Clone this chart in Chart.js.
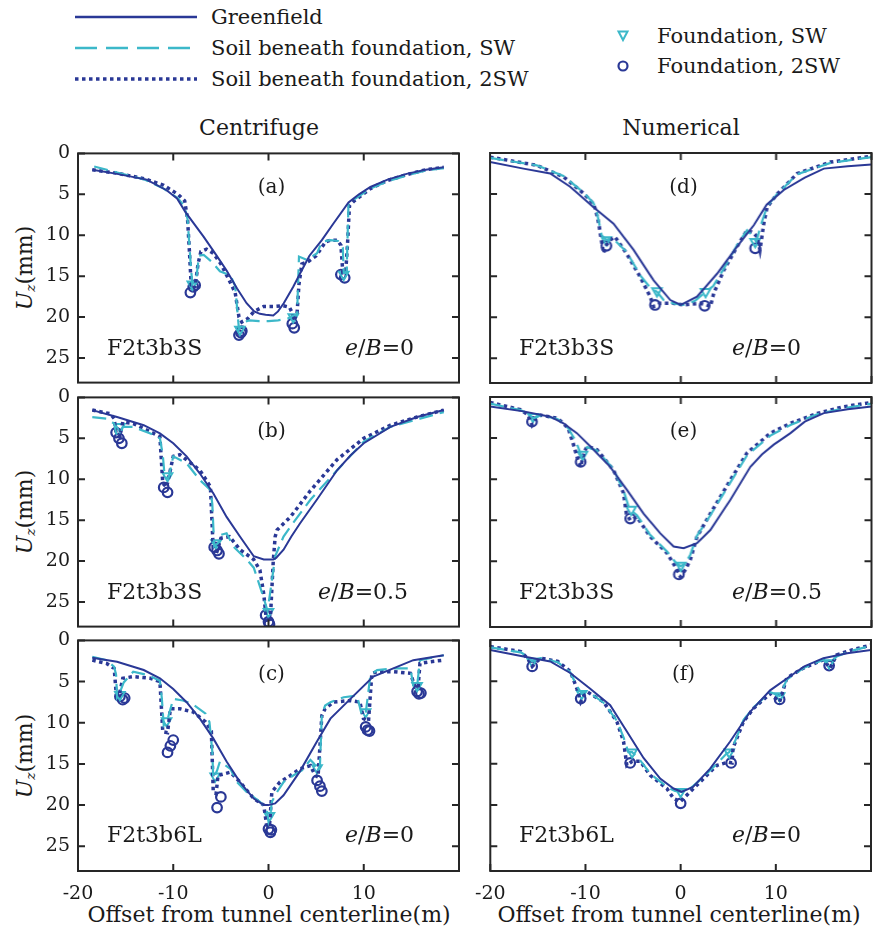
<!DOCTYPE html>
<html>
<head>
<meta charset="utf-8">
<script src="https://cdn.jsdelivr.net/npm/chart.js@4.4.1/dist/chart.umd.min.js"></script>
<style>
body { margin: 0; background: #fff; width: 873px; height: 941px; position: relative; overflow: hidden;
       font-family: 'DejaVu Serif', 'DejaVu Sans', serif; color: #1a1a1a; }
canvas { position: absolute; }
.t { position: absolute; white-space: nowrap; line-height: 1; }
.c { transform: translate(-50%, -50%); }
.leg { font-size: 21px; transform: translateY(-50%); }
.title { font-size: 22px; }
.ylab { font-size: 22px; transform: translate(-50%, -50%) rotate(-90deg); }
.ylab sub { font-size: 62%; vertical-align: -0.2em; }
.pl { font-size: 20px; }
.ann { font-size: 22px; transform: translateY(-50%); }
</style>
</head>
<body>

<svg width="873" height="100" style="position:absolute;left:0;top:0">
  <line x1="75" y1="17" x2="197" y2="17" stroke="#2a3896" stroke-width="2.5"/>
  <line x1="75" y1="48" x2="197" y2="48" stroke="#3cb8c9" stroke-width="2.5" stroke-dasharray="22 9"/>
  <line x1="75" y1="79" x2="197" y2="79" stroke="#2a3896" stroke-width="3.5" stroke-dasharray="3.5 3.5"/>
  <polygon points="618.5,31.5 627.5,31.5 623,40" fill="none" stroke="#3cb8c9" stroke-width="2"/>
  <circle cx="623" cy="66" r="4.5" fill="none" stroke="#2a3896" stroke-width="2.2"/>
</svg>
<div class="t leg" style="left:211px;top:17px">Greenfield</div>
<div class="t leg" style="left:211px;top:48px">Soil beneath foundation, SW</div>
<div class="t leg" style="left:211px;top:79px">Soil beneath foundation, 2SW</div>
<div class="t leg" style="left:657px;top:36px">Foundation, SW</div>
<div class="t leg" style="left:657px;top:66px">Foundation, 2SW</div>

<div class="t title c" style="left:259px;top:128px">Centrifuge</div>
<div class="t title c" style="left:681px;top:128px">Numerical</div>

<div class="t ylab" style="left:26px;top:268px"><i>U</i><sub><i>z</i></sub>(mm)</div>
<div class="t ylab" style="left:26px;top:512px"><i>U</i><sub><i>z</i></sub>(mm)</div>
<div class="t ylab" style="left:26px;top:756px"><i>U</i><sub><i>z</i></sub>(mm)</div>

<div class="t title c" style="left:269px;top:915px">Offset from tunnel centerline(m)</div>
<div class="t title c" style="left:679px;top:915px">Offset from tunnel centerline(m)</div>

<script>
// tick values
const xTicks = [-20, -10, 0, 10, 20];
const yTicks = [0, 5, 10, 15, 20, 25];

// panel (a) - centrifuge, F2t3b3S, e/B=0
const gfA = [[-18.5,2.0],[-15.9,2.5],[-12.8,3.2],[-10.7,4.5],[-9.6,5.5],[-8.7,7.2],[-6.8,10.2],[-5.5,12.4],[-4.4,14.3],[-3.3,16.5],[-2.3,18.3],[-1.5,19.3],[-0.9,19.6],[-0.3,19.7],[0.5,19.8],[1.0,19.3],[1.6,18.3],[2.6,16.3],[3.3,14.7],[4.3,12.5],[5.6,10.6],[6.8,8.6],[8.4,6.0],[9.5,5.0],[10.7,4.1],[12.5,3.2],[14.5,2.5],[16.5,2.0],[18.4,1.7]];
const swA = [[-18.3,1.6],[-16,2.3],[-13,3.2],[-11,4.3],[-9.5,5.5],[-8.8,6.5],[-8.5,8.0],[-8.2,13.0],[-8.0,16.0],[-7.6,15.5],[-7.3,12.5],[-6.8,12.4],[-6.0,13.2],[-5.1,14.4],[-4.0,14.9],[-3.5,16.2],[-3.1,21.5],[-2.6,20.6],[-2.0,20.4],[-1.0,20.5],[0,20.5],[1.0,20.4],[2.0,20.2],[2.6,19.8],[3.0,19.7],[3.2,12.6],[4.0,13.0],[5.1,12.2],[5.6,10.8],[6.5,10.6],[7.3,10.7],[7.8,11.5],[7.9,14.6],[8.2,14.6],[8.4,6.1],[9.0,5.6],[10.7,4.3],[12.5,3.4],[14.5,2.7],[16.5,2.1],[18.4,1.8]];
const dwA = [[-18.5,2.0],[-16,2.4],[-13,3.1],[-11,3.9],[-9.5,5.0],[-8.8,5.8],[-8.5,8.0],[-8.3,12.0],[-8.1,16.5],[-7.7,16.3],[-7.4,13.5],[-7.1,12.0],[-6.5,11.7],[-5.8,12.2],[-5.0,13.5],[-4.0,15.8],[-3.5,17.0],[-3.1,20.0],[-2.8,20.6],[-2.2,20.2],[-1.5,19.3],[-0.5,18.7],[0.5,18.7],[1.5,18.6],[2.2,18.8],[2.5,19.5],[2.7,20.4],[3.0,19.5],[3.2,16.0],[3.5,13.5],[4.2,13.2],[5.0,12.5],[6.0,10.8],[6.5,10.6],[7.2,10.6],[7.6,11.2],[7.8,14.5],[8.1,14.6],[8.3,11.0],[8.5,6.4],[9.0,5.8],[10.7,4.3],[12.5,3.3],[14.5,2.6],[16.5,2.0],[18.4,1.7]];
const mSwA = [[-8.0,16.0],[-3.0,21.5],[2.6,20.0],[7.9,14.8]];
const mDwA = [[-8.2,17.0],[-7.9,16.3],[-7.7,16.1],[-3.1,22.2],[-2.9,21.9],[-2.8,21.7],[2.5,20.8],[2.7,21.3],[7.6,14.8],[8.0,15.2]];

// panel (b) - centrifuge, F2t3b3S, e/B=0.5
const gfB = [[-18.5,1.55],[-15.9,2.4],[-13.1,3.4],[-11.4,4.4],[-10.0,5.6],[-8.6,7.2],[-7.2,9.3],[-5.8,11.7],[-4.4,14.6],[-3.0,17.0],[-1.55,19.4],[-0.5,19.8],[0.5,19.8],[0.8,19.6],[1.58,18.6],[2.4,17.0],[3.3,15.4],[5.07,12.5],[7.2,8.9],[8.6,7.1],[10.0,5.6],[12.8,3.6],[15.6,2.4],[18.4,1.55]];
const swB = [[-18.5,2.4],[-17,2.6],[-16.2,3.2],[-16.0,4.4],[-15.6,4.6],[-15.3,3.6],[-14.2,3.6],[-12.4,4.4],[-11.4,5.0],[-11.1,7.0],[-10.9,9.7],[-10.5,9.9],[-10.0,7.2],[-8.6,8.05],[-7.2,10.1],[-6.1,11.3],[-5.9,13.0],[-5.7,18.2],[-5.3,17.8],[-5.0,16.8],[-4.4,16.6],[-3.7,18.2],[-2.3,19.8],[-1.55,20.8],[-0.5,24.5],[-0.1,26.1],[0.4,22.0],[0.7,19.4],[1.58,17.0],[2.3,15.8],[4.4,12.5],[7.2,8.9],[10,5.4],[12.8,3.6],[15.9,2.6],[18.4,1.8]];
const dwB = [[-18.5,1.55],[-16.6,2.0],[-16.2,2.6],[-16.0,4.4],[-15.6,4.8],[-15.3,3.0],[-14.2,3.2],[-12.4,4.2],[-11.4,4.8],[-11.1,10.5],[-10.7,11.0],[-10.0,7.2],[-9.3,7.0],[-7.2,8.9],[-6.1,10.9],[-5.8,18.6],[-5.4,18.8],[-5.0,17.2],[-4.1,17.0],[-3.0,18.6],[-1.55,19.8],[-0.9,21.1],[-0.5,24.0],[-0.2,27.5],[0.2,27.0],[0.5,20.0],[0.7,17.0],[0.9,16.2],[2.3,14.6],[4.4,11.4],[7.2,7.6],[10,5.0],[12.8,3.4],[15.6,2.4],[18.4,1.55]];
const mSwB = [[-15.6,3.6],[-10.6,9.6],[-5.5,17.8],[0,26.2]];
const mDwB = [[-16.0,4.3],[-15.7,5.0],[-15.4,5.6],[-11.0,11.0],[-10.6,11.6],[-5.7,18.3],[-5.4,18.7],[-5.2,19.1],[-0.3,26.6],[0.0,27.4],[0.1,27.7]];

// panel (c) - centrifuge, F2t3b6L, e/B=0
const gfC = [[-18.5,2.1],[-15.9,2.6],[-13.1,3.6],[-11.4,4.6],[-10.0,5.9],[-8.6,7.5],[-7.2,9.5],[-5.8,11.9],[-4.4,14.7],[-3.0,17.2],[-1.55,19.2],[-0.5,20.0],[0,20.0],[0.7,19.8],[1.58,18.8],[3.3,15.9],[5.07,12.3],[6.5,9.5],[8.6,7.1],[11.0,4.4],[13.1,3.4],[15.2,2.4],[18.4,1.8]];
const swC = [[-18.5,2.0],[-17,2.4],[-16.2,3.2],[-16.0,4.2],[-15.9,6.9],[-15.5,6.0],[-15.2,5.1],[-14.2,3.8],[-12.7,4.2],[-11.4,4.9],[-11.2,7.0],[-11.0,10.3],[-10.6,9.6],[-10.0,7.1],[-9.0,7.3],[-8.0,7.7],[-6.6,8.9],[-6.2,9.9],[-5.9,13.5],[-5.8,16.8],[-5.4,15.8],[-5.1,14.7],[-4.0,15.6],[-3.3,17.2],[-2.3,18.4],[-0.9,19.6],[-0.2,20.4],[0.0,22.0],[0.2,21.2],[0.35,19.6],[0.9,18.4],[1.58,17.2],[2.6,16.4],[3.5,15.8],[4.4,14.5],[4.8,15.0],[5.07,16.0],[5.4,15.2],[5.6,9.0],[5.95,7.9],[6.5,7.5],[7.9,6.9],[9.3,6.7],[9.8,9.1],[10.2,8.9],[10.7,4.2],[11.4,3.6],[13.1,3.4],[14.9,3.4],[15.2,5.5],[15.6,5.6],[15.9,2.4],[18.4,1.8]];
const dwC = [[-18.5,2.4],[-17,2.8],[-16.2,3.4],[-16.0,6.3],[-15.7,6.8],[-15.3,4.6],[-14.2,4.4],[-12.4,4.6],[-11.4,5.0],[-11.1,11.1],[-10.6,11.2],[-10.3,8.3],[-9.3,8.3],[-7.9,8.7],[-6.6,9.9],[-6.0,11.0],[-5.8,18.4],[-5.5,18.6],[-5.3,16.4],[-4.0,16.0],[-3.0,17.2],[-1.55,19.2],[-0.5,20.0],[-0.2,22.4],[0.1,22.6],[0.35,18.4],[1.2,17.2],[2.3,16.4],[3.3,15.6],[4.4,15.2],[4.9,16.4],[5.2,16.6],[5.6,9.1],[5.95,8.3],[6.8,7.5],[8.6,7.3],[9.6,7.5],[9.97,9.5],[10.5,9.8],[10.85,4.0],[11.4,3.8],[13.1,3.8],[14.9,4.0],[15.4,5.7],[15.7,5.8],[15.9,2.8],[16.9,2.6],[18.4,2.4]];
const mSwC = [[-15.6,6.6],[-10.7,9.8],[-5.6,16.5],[0.1,21.3],[5.1,15.5],[10.2,8.7],[15.6,5.5]];
const mDwC = [[-15.6,6.8],[-15.3,7.2],[-15.1,7.0],[-10.6,13.6],[-10.3,12.8],[-10.0,12.1],[-5.4,20.3],[-5.0,19.0],[0,22.9],[0.2,23.3],[0.3,23.0],[5.1,17.0],[5.4,17.7],[5.6,18.3],[10.2,10.5],[10.4,10.9],[10.6,11.0],[15.6,6.2],[15.8,6.5],[16.0,6.4]];

// panel (d) - numerical, F2t3b3S, e/B=0
const gfD = [[-20,1.1],[-16.5,1.9],[-13.7,2.5],[-11.6,4.1],[-9.15,6.6],[-7.05,8.6],[-4.95,11.8],[-2.85,15.5],[-1.1,17.9],[0,18.5],[1.7,17.5],[3.8,14.7],[5.9,11.4],[7.65,8.8],[9.0,6.3],[10.8,4.5],[13,3.0],[15.0,1.9],[17.5,1.6],[20,1.4]];
const swD = [[-20,0.6],[-15.1,1.5],[-12.3,2.8],[-10.2,4.8],[-9.15,6.1],[-8.8,7.2],[-8.3,10.0],[-7.8,10.6],[-7.2,10.3],[-5.7,12.0],[-4.25,14.9],[-3.2,16.4],[-2.5,16.9],[-1.8,17.9],[-0.8,18.3],[0.25,18.5],[1.5,18.0],[2.6,16.9],[3.4,16.2],[4.5,14.1],[5.9,11.2],[6.95,9.4],[7.6,10.2],[7.9,10.8],[8.5,8.4],[9.05,6.5],[10.1,5.0],[12.2,2.6],[15.7,1.2],[20,0.5]];
const dwD = [[-20,0.5],[-15.1,1.5],[-12.3,2.9],[-10.2,4.9],[-9.15,6.2],[-8.9,7.0],[-8.6,8.6],[-8.1,12.2],[-7.8,11.2],[-7.4,10.6],[-6.9,10.2],[-5.7,12.2],[-4.25,15.1],[-3.2,17.5],[-2.85,18.7],[-2.2,18.3],[-0.8,18.3],[0.25,18.5],[2.0,18.3],[2.7,18.5],[3.1,18.7],[3.45,17.1],[4.5,14.3],[5.9,11.4],[6.95,9.4],[7.6,9.7],[8.0,10.2],[8.3,11.8],[8.7,8.6],[9.05,6.6],[10.1,5.0],[12.2,2.5],[15.7,1.1],[20,0.4]];
const mSwD = [[-7.8,10.6],[-2.5,16.8],[2.6,16.9],[7.8,10.8]];
const mDwD = [[-7.8,11.3],[-2.7,18.5],[2.5,18.6],[7.8,11.6]];

// panel (e) - numerical, F2t3b3S, e/B=0.5
const gfE = [[-20,1.15],[-16.5,1.75],[-13.7,2.4],[-12.3,3.2],[-10.9,4.4],[-9.5,6.0],[-7.4,8.5],[-5.65,11.3],[-3.9,14.2],[-2.15,16.6],[-0.75,18.2],[0.3,18.4],[1.7,17.8],[3.1,16.2],[5.2,12.5],[7.3,8.5],[8.5,7.0],[9.75,5.8],[11.5,4.4],[13,3.0],[15.0,1.96],[17.5,1.5],[20,1.15]];
const swE = [[-20,0.8],[-16.8,1.6],[-16.0,2.0],[-15.5,2.6],[-15.0,2.4],[-14.7,2.2],[-12.9,2.7],[-11.8,3.8],[-11.0,5.4],[-10.4,7.2],[-10.0,6.4],[-9.8,6.1],[-8.8,6.5],[-7.05,8.8],[-6.0,11.4],[-5.4,13.6],[-5.0,14.0],[-4.6,14.4],[-3.2,16.8],[-1.45,18.8],[-0.5,20.2],[0.0,20.6],[0.5,20.2],[1.0,19.2],[1.7,16.9],[3.1,14.4],[5.2,10.4],[6.95,7.1],[9.4,4.7],[11.5,3.4],[14.3,2.1],[17,1.4],[20,0.8]];
const dwE = [[-20,0.66],[-16.8,1.55],[-16.0,2.2],[-15.6,3.4],[-15.2,2.6],[-14.7,2.2],[-12.9,2.6],[-11.8,3.8],[-11.3,5.6],[-10.8,7.6],[-10.5,8.5],[-10.1,6.6],[-9.8,6.0],[-8.8,6.4],[-7.05,8.9],[-6.0,11.7],[-5.7,14.2],[-5.3,15.0],[-4.6,14.6],[-3.2,17.0],[-1.45,19.0],[-0.55,20.7],[-0.05,21.9],[0.5,21.0],[1.0,19.8],[1.7,17.0],[3.1,14.2],[5.2,10.1],[6.95,6.8],[9.4,4.4],[11.5,3.2],[14.3,2.0],[17,1.2],[20,0.66]];
const mSwE = [[-15.5,2.4],[-10.3,7.0],[-5.2,13.7],[0,20.5]];
const mDwE = [[-15.6,3.0],[-10.5,7.9],[-5.3,14.8],[-0.2,21.6]];

// panel (f) - numerical, F2t3b6L, e/B=0
const gfF = [[-20,1.2],[-16.5,2.0],[-13.7,2.6],[-11.6,4.0],[-9.5,5.9],[-7.4,7.9],[-5.65,11.1],[-3.9,14.3],[-2.15,16.8],[-0.75,18.0],[0.1,18.4],[1.3,17.8],[3.1,15.6],[5.2,12.3],[7.3,8.7],[9.4,6.1],[11.5,4.4],[13,3.2],[15.0,2.2],[17.5,1.6],[20,1.2]];
const swF = [[-20,0.9],[-16.8,1.5],[-16.1,2.0],[-15.6,2.6],[-15.1,2.3],[-14.7,2.2],[-12.9,2.7],[-11.6,3.9],[-10.9,5.6],[-10.4,6.5],[-10.0,6.2],[-9.8,6.2],[-8.1,7.6],[-6.7,9.8],[-6.0,11.8],[-5.5,13.6],[-5.1,13.6],[-4.25,14.6],[-3.2,16.2],[-1.45,17.8],[-0.6,18.3],[0,18.4],[1.0,18.0],[2.4,16.6],[3.8,15.0],[4.8,13.8],[5.1,13.6],[5.6,12.6],[6.6,9.7],[7.65,8.2],[9.4,6.3],[10.4,6.8],[11.15,4.8],[12.9,3.4],[15.0,2.4],[15.6,2.8],[16.4,2.0],[18,1.3],[20,0.7]];
const dwF = [[-20,0.8],[-16.8,1.4],[-16.1,2.2],[-15.6,3.2],[-15.1,2.6],[-14.7,2.2],[-12.9,2.6],[-11.6,3.8],[-10.9,5.9],[-10.5,7.5],[-10.1,6.6],[-9.8,6.3],[-8.1,7.5],[-6.7,9.9],[-6.0,12.3],[-5.65,15.2],[-5.1,14.7],[-4.25,14.7],[-3.2,16.4],[-1.45,18.0],[-0.75,19.2],[-0.05,19.6],[1.0,18.4],[2.4,16.8],[3.8,15.2],[5.0,14.8],[5.4,14.9],[5.5,13.1],[6.6,9.9],[7.65,8.3],[9.4,6.5],[10.4,7.5],[11.15,4.6],[12.9,3.4],[15.0,2.4],[15.7,3.4],[16.4,1.8],[18,1.2],[20,0.6]];
const mSwF = [[-15.6,2.6],[-10.4,6.5],[-5.1,13.6],[0,18.4],[5.1,13.6],[10.4,6.8],[15.6,2.8]];
const mDwF = [[-15.6,3.2],[-10.5,7.1],[-5.3,14.9],[0,19.8],[5.3,14.9],[10.4,7.2],[15.6,3.1]];

const panelLabels = ['(a)', '(b)', '(c)', '(d)', '(e)', '(f)'];
const caseNames = ['F2t3b3S', 'F2t3b3S', 'F2t3b6L', 'F2t3b3S', 'F2t3b3S', 'F2t3b6L'];
const eccentricity = ['0', '0.5', '0', '0', '0.5', '0'];

const BLUE = '#2a3896';
const CYAN = '#3cb8c9';
const FRAME = '#262626';
const FONT = "'DejaVu Serif', 'DejaVu Sans', serif";

// plot area edges in px
const colL = [78, 490], colR = [459, 871];
const rowT = [153, 397, 640], rowB = [383, 627, 871];

const panels = [
    { col: 0, row: 0, gf: gfA, sw: swA, dw: dwA, msw: mSwA, mdw: mDwA, annX: 345 },
    { col: 0, row: 1, gf: gfB, sw: swB, dw: dwB, msw: mSwB, mdw: mDwB, annX: 318 },
    { col: 0, row: 2, gf: gfC, sw: swC, dw: dwC, msw: mSwC, mdw: mDwC, annX: 345 },
    { col: 1, row: 0, gf: gfD, sw: swD, dw: dwD, msw: mSwD, mdw: mDwD, annX: 732 },
    { col: 1, row: 1, gf: gfE, sw: swE, dw: dwE, msw: mSwE, mdw: mDwE, annX: 732 },
    { col: 1, row: 2, gf: gfF, sw: swF, dw: dwF, msw: mSwF, mdw: mDwF, annX: 732 }
];

function pts(arr) {
    return arr.map(p => ({ x: p[0], y: p[1] }));
}

// box with inward ticks on all four sides
const framePlugin = {
    id: 'frame',
    afterDatasetsDraw(chart) {
        const { ctx, chartArea: a, scales } = chart;
        const len = 7;
        ctx.save();
        ctx.strokeStyle = FRAME;
        ctx.lineWidth = 2;
        ctx.beginPath();
        xTicks.forEach(v => {
            const px = scales.x.getPixelForValue(v);
            ctx.moveTo(px, a.bottom); ctx.lineTo(px, a.bottom - len);
            ctx.moveTo(px, a.top); ctx.lineTo(px, a.top + len);
        });
        yTicks.forEach(v => {
            const py = scales.y.getPixelForValue(v);
            ctx.moveTo(a.left, py); ctx.lineTo(a.left + len, py);
            ctx.moveTo(a.right, py); ctx.lineTo(a.right - len, py);
        });
        ctx.stroke();
        ctx.strokeRect(a.left, a.top, a.right - a.left, a.bottom - a.top);
        ctx.restore();
    }
};

function addText(html, cls, left, top) {
    const d = document.createElement('div');
    d.className = 't ' + cls;
    d.style.left = left + 'px';
    d.style.top = top + 'px';
    d.innerHTML = html;
    document.body.appendChild(d);
}

function panelConfig(p, yw, xh, padR) {
    const tickFont = { family: FONT, size: 19 };
    return {
        type: 'scatter',
        data: {
            datasets: [
                { data: pts(p.gf), showLine: true, borderColor: BLUE, borderWidth: 2, pointRadius: 0, tension: 0 },
                { data: pts(p.sw), showLine: true, borderColor: CYAN, borderWidth: 2.2, borderDash: [14, 7], pointRadius: 0, tension: 0 },
                { data: pts(p.dw), showLine: true, borderColor: BLUE, borderWidth: 3.5, borderDash: [3.5, 3.5], pointRadius: 0, tension: 0 },
                { data: pts(p.msw), showLine: false, pointStyle: 'triangle', rotation: 180, pointRadius: 5.5, borderWidth: 2,
                  borderColor: CYAN, backgroundColor: 'rgba(0,0,0,0)' },
                { data: pts(p.mdw), showLine: false, pointStyle: 'circle', pointRadius: 4.8, borderWidth: 2.2,
                  borderColor: BLUE, backgroundColor: 'rgba(0,0,0,0)' }
            ]
        },
        options: {
            responsive: false,
            maintainAspectRatio: false,
            animation: false,
            layout: { padding: { top: 16, right: padR, left: 0, bottom: 0 } },
            plugins: { legend: { display: false }, tooltip: { enabled: false } },
            scales: {
                x: {
                    type: 'linear', min: -20, max: 20,
                    grid: { display: false, drawTicks: false }, border: { display: false },
                    afterBuildTicks: s => { s.ticks = xTicks.map(v => ({ value: v })); },
                    afterFit: s => { s.height = xh; },
                    ticks: { display: p.row === 2, padding: 12, font: tickFont, color: '#1a1a1a',
                             maxRotation: 0, autoSkip: false, callback: v => (v === 20 ? '' : String(v)) }
                },
                y: {
                    type: 'linear', reverse: true, min: 0, max: 28,
                    grid: { display: false, drawTicks: false }, border: { display: false },
                    afterBuildTicks: s => { s.ticks = yTicks.map(v => ({ value: v })); },
                    afterFit: s => { s.width = yw; },
                    ticks: { display: p.col === 0, padding: 8, font: tickFont, color: '#1a1a1a', callback: v => String(v) }
                }
            }
        },
        plugins: [framePlugin]
    };
}

function sizeCanvas(canvas, w, h) {
    canvas.width = w;
    canvas.height = h;
    canvas.style.width = w + 'px';
    canvas.style.height = h + 'px';
}

function makePanel(p, i) {
    const L = colL[p.col], R = colR[p.col], T = rowT[p.row], B = rowB[p.row];
    const cl = p.col === 0 ? 0 : 473;
    let cw = p.col === 0 ? 473 : 400;
    const yw = L - cl;
    const padR = cl + cw - R;
    const xh = p.row === 2 ? 50 : 16;
    let ch = B - T + 16 + xh;

    const canvas = document.createElement('canvas');
    sizeCanvas(canvas, cw, ch);
    document.body.appendChild(canvas);

    let chart = new Chart(canvas, panelConfig(p, yw, xh, padR));
    let a = chart.chartArea;
    const dw = (R - L) - (a.right - a.left);
    const dh = (B - T) - (a.bottom - a.top);
    if (Math.abs(dw) > 0.01 || Math.abs(dh) > 0.01) {
        // correct the canvas so the plot area comes out at the wanted size
        chart.destroy();
        cw += dw; ch += dh;
        sizeCanvas(canvas, cw, ch);
        chart = new Chart(canvas, panelConfig(p, yw, xh, padR));
        a = chart.chartArea;
    }
    canvas.style.left = (L - a.left) + 'px';
    canvas.style.top = (T - a.top) + 'px';

    const cx = (L + R) / 2;
    addText(panelLabels[i], 'pl c', cx + 3, T + 33);
    addText(caseNames[i], 'ann', L + 29, T + 195);
    addText('<i>e</i>/<i>B</i>=' + eccentricity[i], 'ann', p.annX, T + 195);
}

panels.forEach(makePanel);
</script>
</body>
</html>
